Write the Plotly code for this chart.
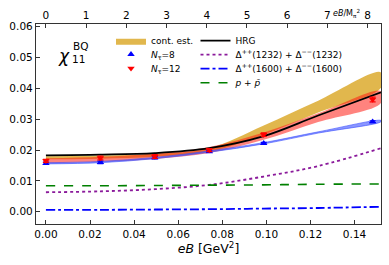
import plotly.graph_objects as go

# ---------------- data ----------------
eB_grid = [0.0, 0.0247, 0.0494, 0.0741, 0.0988, 0.1235, 0.152]
cont_lo = [0.0170, 0.0172, 0.0178, 0.0195, 0.0250, 0.0322, 0.0402]
cont_hi = [0.0180, 0.0182, 0.0188, 0.0206, 0.0280, 0.0360, 0.0452]
nt12_band_mid = [0.0165, 0.0170, 0.0180, 0.0200, 0.0245, 0.0305, 0.0372]
nt12_band_hw = [0.0008, 0.0008, 0.0009, 0.0010, 0.0012, 0.0014, 0.0019]
nt8_band_mid = [0.0157, 0.0161, 0.0174, 0.0195, 0.0222, 0.0257, 0.0294]
nt8_band_hw = [0.0002, 0.0002, 0.0002, 0.0002, 0.0002, 0.0002, 0.0002]

eB_pts = [0.0, 0.0247, 0.0494, 0.0741, 0.0988, 0.1482]
nt8_y = [0.0157, 0.0160, 0.0175, 0.0195, 0.0222, 0.0292]
nt8_err = [0.0004, 0.0004, 0.0004, 0.0003, 0.0003, 0.0003]
nt12_y = [0.0165, 0.0174, 0.0179, 0.0200, 0.0250, 0.0364]
nt12_err = [0.0005, 0.0006, 0.0006, 0.0005, 0.0006, 0.0008]

hrg = [0.0183, 0.0185, 0.0190, 0.0206, 0.0245, 0.0312, 0.0387]
delta1232 = [0.0063, 0.0066, 0.0073, 0.0087, 0.0114, 0.0148, 0.0206]
delta1600 = [0.0006, 0.0006, 0.0007, 0.0008, 0.0010, 0.0012, 0.0016]
p_pbar = [0.0084, 0.0084, 0.0085, 0.0086, 0.0087, 0.0089, 0.0090]

x_ticks = [0.0, 0.02, 0.04, 0.06, 0.08, 0.10, 0.12, 0.14]
y_ticks = [0.0, 0.01, 0.02, 0.03, 0.04, 0.05, 0.06]
top_ticks = [0, 1, 2, 3, 4, 5, 6, 7, 8]
M_pi2 = 0.01824  # GeV^2

FONT = "DejaVu Sans"
W, H = 389, 265
ML, MR, MT, MB = 36, 8, 24, 41
PW, PH = W - ML - MR, H - MT - MB
XR = [-0.0045, 0.152]
YR = [-0.0040, 0.0609]


def px(xp):
    return (xp - ML) / PW


def py(yp):
    return (H - MB - yp) / PH


def band(x, lo, hi):
    return list(x) + list(x)[::-1], list(hi) + list(lo)[::-1]


fig = go.Figure()

# continuum estimate band
bx, by = band(eB_grid, cont_lo, cont_hi)
fig.add_trace(go.Scatter(x=bx, y=by, fill="toself", mode="lines", line=dict(width=0, shape="spline"),
                         fillcolor="rgba(218,165,32,0.80)", name="cont. est.", legend="legend"))
# N_tau=12 band
lo12 = [m - h for m, h in zip(nt12_band_mid, nt12_band_hw)]
hi12 = [m + h for m, h in zip(nt12_band_mid, nt12_band_hw)]
bx, by = band(eB_grid, lo12, hi12)
fig.add_trace(go.Scatter(x=bx, y=by, fill="toself", mode="lines", line=dict(width=0, shape="spline"),
                         fillcolor="rgba(255,30,20,0.55)", showlegend=False, hoverinfo="skip"))
# N_tau=8 band
lo8 = [m - h for m, h in zip(nt8_band_mid, nt8_band_hw)]
hi8 = [m + h for m, h in zip(nt8_band_mid, nt8_band_hw)]
bx, by = band(eB_grid, lo8, hi8)
fig.add_trace(go.Scatter(x=bx, y=by, fill="toself", mode="lines",
                         line=dict(width=1, shape="spline", color="rgba(60,80,255,0.6)"),
                         fillcolor="rgba(60,80,255,0.6)", showlegend=False, hoverinfo="skip"))

# HRG lines
fig.add_trace(go.Scatter(x=eB_grid, y=hrg, mode="lines", line=dict(color="black", width=1.8, shape="spline"),
                         name="HRG", legend="legend4"))
fig.add_trace(go.Scatter(x=eB_grid, y=delta1232, mode="lines",
                         line=dict(color="#8B1A9B", width=1.8, dash="dot", shape="spline"),
                         name="Δ<sup>++</sup>(1232) + Δ<sup>−−</sup>(1232)", legend="legend5"))
fig.add_trace(go.Scatter(x=eB_grid, y=delta1600, mode="lines",
                         line=dict(color="blue", width=1.8, dash="dashdot", shape="spline"),
                         name="Δ<sup>++</sup>(1600) + Δ<sup>−−</sup>(1600)", legend="legend6"))
fig.add_trace(go.Scatter(x=eB_grid, y=p_pbar, mode="lines",
                         line=dict(color="green", width=1.6, dash="dash", shape="spline"),
                         name="<i>p</i> + <i>p̄</i>", legend="legend7"))

# lattice points
fig.add_trace(go.Scatter(x=eB_pts, y=nt8_y, mode="markers",
                         marker=dict(symbol="triangle-up", size=6.5, color="blue"),
                         error_y=dict(type="data", array=nt8_err, color="blue", thickness=1.2, width=3),
                         name="<i>N</i><sub>τ</sub>=8", legend="legend2"))
fig.add_trace(go.Scatter(x=eB_pts, y=nt12_y, mode="markers",
                         marker=dict(symbol="triangle-down", size=6.5, color="red"),
                         error_y=dict(type="data", array=nt12_err, color="red", thickness=1.2, width=3),
                         name="<i>N</i><sub>τ</sub>=12", legend="legend3"))

# invisible trace for the top axis
fig.add_trace(go.Scatter(x=[0, 8], y=[0, 0], xaxis="x2", mode="markers", marker=dict(opacity=0),
                         showlegend=False, hoverinfo="skip"))

axis_common = dict(showline=True, linecolor="#333", linewidth=1.3, ticks="inside", ticklen=4,
                   tickcolor="#333", showgrid=False, zeroline=False, automargin=False,
                   tickfont=dict(family=FONT, size=10.5, color="black"))

fig.update_layout(
    width=W, height=H,
    margin=dict(l=ML, r=MR, t=MT, b=MB, autoexpand=False),
    paper_bgcolor="white", plot_bgcolor="white",
    font=dict(family=FONT, size=9, color="black"),
    xaxis=dict(range=XR, tickvals=x_ticks, tickformat=".2f",
               title=dict(text="<i>eB</i> [GeV<sup>2</sup>]", font=dict(family=FONT, size=12.5), standoff=5),
               **axis_common),
    xaxis2=dict(range=[XR[0] / M_pi2, XR[1] / M_pi2], overlaying="x", side="top", tickvals=top_ticks,
                **axis_common),
    yaxis=dict(range=YR, tickvals=y_ticks, tickformat=".2f", mirror=True, **axis_common),
)

leg_common = dict(bgcolor="rgba(0,0,0,0)", borderwidth=0, xanchor="left", yanchor="middle",
                  font=dict(family=FONT, size=9, color="black"), itemwidth=30)
legend_pos = {
    "legend": (151, 40.7), "legend2": (151, 54.3), "legend3": (151, 68.3),
    "legend4": (235.5, 40.7), "legend5": (235.5, 54.7), "legend6": (235.5, 68.7), "legend7": (235.5, 82.7),
}
for key, (tx, ty) in legend_pos.items():
    fig.update_layout({key: dict(x=px(tx - 40), y=py(ty), **leg_common)})

ann = dict(xref="paper", yref="paper", showarrow=False, yanchor="middle")
# chi label
fig.add_annotation(x=px(72), y=py(56), text="<i>χ</i>", xanchor="right",
                   font=dict(family=FONT, size=17, color="black"), **ann)
fig.add_annotation(x=px(71), y=py(46), text="BQ", xanchor="left",
                   font=dict(family=FONT, size=10.5, color="black"), **ann)
fig.add_annotation(x=px(70), y=py(59), text="11", xanchor="left",
                   font=dict(family=FONT, size=10.5, color="black"), **ann)
# top axis label
fig.add_annotation(x=px(346), y=py(14), text="<i>eB</i>/M<sub>π</sub><sup>2</sup>", xanchor="center",
                   font=dict(family=FONT, size=8, color="black"), **ann)

fig.write_html("out.html", config={"displayModeBar": False},
               post_script="document.body.style.margin='0';document.body.style.padding='0';")
